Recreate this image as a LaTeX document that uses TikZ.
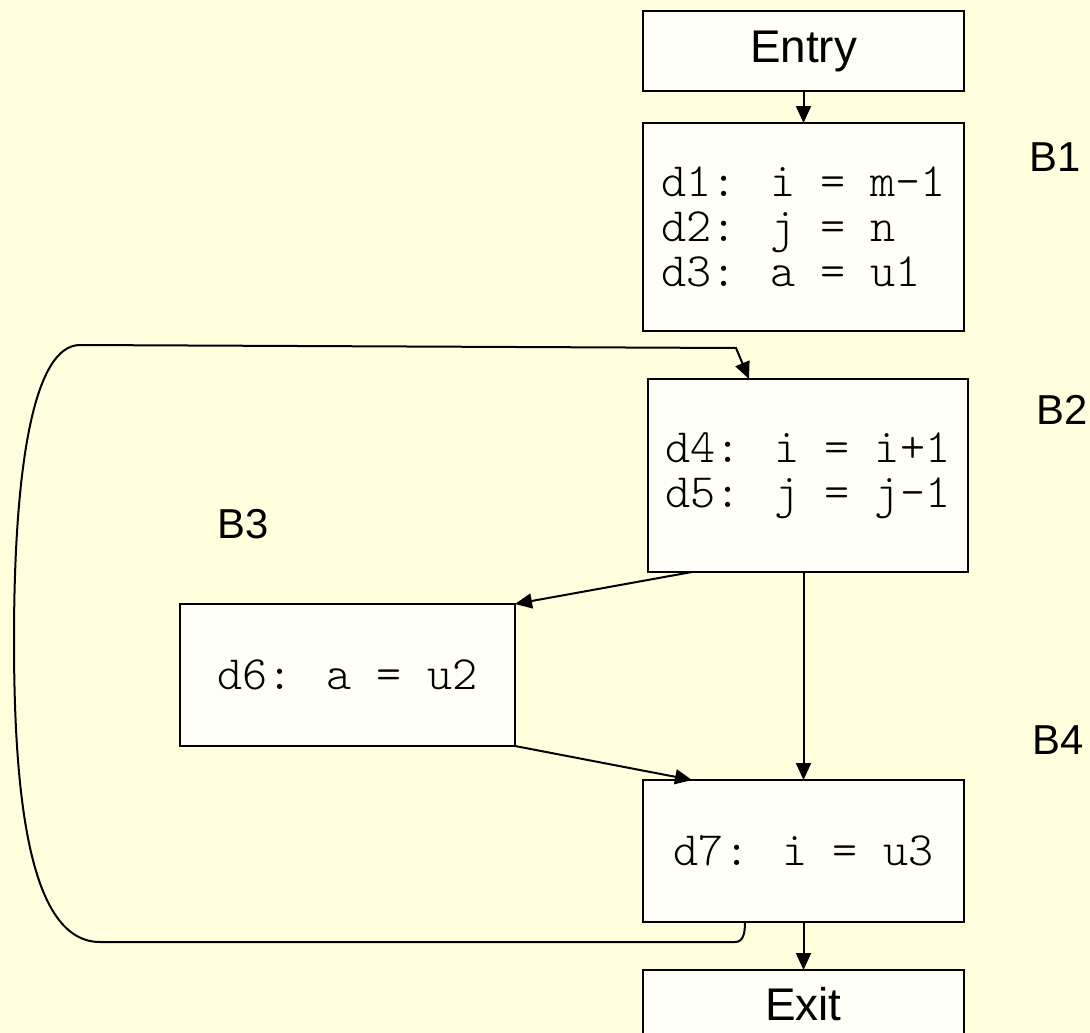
\documentclass[tikz,border=0pt]{standalone}
\usepackage{fontspec}
\setmainfont{Liberation Sans}
\newfontfamily\codefont{Latin Modern Mono Light}
\usetikzlibrary{arrows.meta}
\definecolor{bgyellow}{HTML}{FFFFDD}
\definecolor{boxfill}{HTML}{FFFFF7}
\begin{document}
\begin{tikzpicture}[x=1bp,y=-1bp,
  blk/.style={draw=black,line width=2bp,fill=boxfill,inner sep=0pt,outer sep=0pt,
    align=left,font=\codefont\fontsize{48}{45}\selectfont},
  term/.style={draw=black,line width=2bp,fill=boxfill,inner sep=0pt,outer sep=0pt,
    font=\fontsize{46}{48}\selectfont},
  lbl/.style={font=\fontsize{42}{46}\selectfont},
  edge/.style={line width=2bp,-{Triangle[length=17bp,width=15bp]}}]
\fill[bgyellow] (0,0) rectangle (1090,1033);
\useasboundingbox (0,0) rectangle (1090,1033);
\node[term,minimum width=321bp,minimum height=80bp] (entry) at (803.5,51) {Entry};
\node[blk,minimum width=321bp,minimum height=208bp] (b1) at (803.5,227) {d1: i = m-1\\d2: j = n\\d3: a = u1};
\node[blk,minimum width=320bp,minimum height=193bp] (b2) at (808,475.5) {d4: i = i+1\\d5: j = j-1};
\node[blk,minimum width=335bp,minimum height=142bp] (b3) at (347.5,675) {d6: a = u2};
\node[blk,minimum width=321bp,minimum height=142bp] (b4) at (803.5,851) {d7: i = u3};
\node[term,minimum width=321bp,minimum height=68bp] (exit) at (803.5,1004) {Exit};
\node[lbl] (l1) at (1055,157) {B1};
\node[lbl] (l2) at (1062,410) {B2};
\node[lbl] (l3) at (243,524) {B3};
\node[lbl] (l4) at (1058,740) {B4};
\draw[edge] (entry.south) -- (b1.north);
\draw[edge] (b4.north |- b2.south) -- (b4.north);
\draw[edge] (b4.south) -- (exit.north);
\coordinate (p23a) at (692,572);
\coordinate (p23b) at (515,604);
\coordinate (p34a) at (515,746);
\coordinate (p34b) at (692,780);
\draw[edge] (p23a) -- (p23b);
\draw[edge] (p34a) -- (p34b);
\coordinate (ls) at (745,922);
\coordinate (le) at (749,379);
\draw[edge] (ls) .. controls (745,934) and (743,942) .. (735,942) -- (100,942)
  .. controls (30,942) and (14,800) .. (14,640)
  .. controls (14,460) and (35,345) .. (80,345) -- (736,348) -- (le);
\end{tikzpicture}
\end{document}
